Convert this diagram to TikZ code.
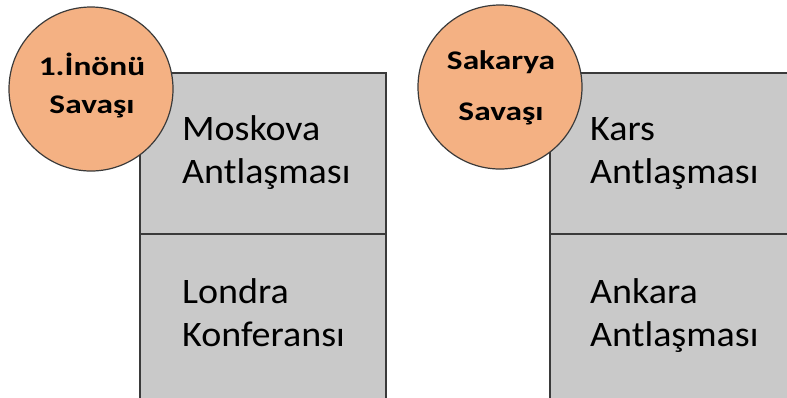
\documentclass[tikz,border=0pt]{standalone}
\usepackage{fontspec}
\setmainfont{Carlito}
\newfontfamily\celltextfont[FakeStretch=1.06]{Carlito}
\newfontfamily\badgefont[FakeStretch=1.24]{Carlito}
\definecolor{circfill}{HTML}{F4B183}
\definecolor{boxfill}{HTML}{C9C9C9}
\definecolor{edge}{HTML}{3A3A3A}
\begin{document}
\begin{tikzpicture}[x=1bp,y=-1bp,
  cellbox/.style={draw=edge,line width=1.6bp,fill=boxfill},
  badge/.style={circle,draw=edge,line width=1.2bp,fill=circfill,minimum size=164bp,inner sep=0pt},
  badgetext/.style={anchor=base,inner sep=0pt,align=center,
    font=\badgefont\bfseries\fontsize{27}{38}\selectfont},
  celltext/.style={anchor=base west,font=\celltextfont\fontsize{36}{43}\selectfont,align=left,inner sep=0pt}]
\useasboundingbox (0,0) rectangle (787,397);
\clip (0,0) rectangle (787,397);
% left column
\draw[cellbox] (140,73) rectangle (386,410);
\draw[edge,line width=1.6bp] (140,234) -- (386,234);
\node[celltext] (mosk) at (182,183) {Moskova\\Antlaşması};
\node[celltext] (lond) at (182,346) {Londra\\Konferansı};
\node[badge] (inonu) at (91,89) {};
\node[badgetext] (inonutext) at (92,113) {1.İnönü\\Savaşı};
% right column
\draw[cellbox] (550,73) rectangle (800,410);
\draw[edge,line width=1.6bp] (550,234) -- (800,234);
\node[celltext] (kars) at (590,183) {Kars\\Antlaşması};
\node[celltext] (ank) at (590,346) {Ankara\\Antlaşması};
\node[badge] (sak) at (500,87) {};
\node[badgetext,font=\badgefont\bfseries\fontsize{27}{51}\selectfont] (saktext) at (501,120) {Sakarya\\Savaşı};
\end{tikzpicture}
\end{document}
